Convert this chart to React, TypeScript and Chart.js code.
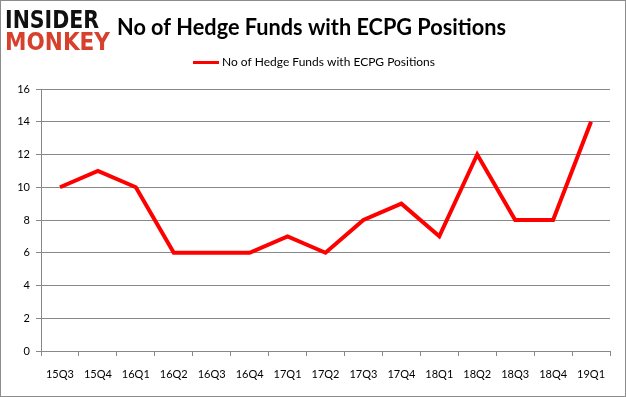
import React, { useEffect, useRef } from "react";
import { Chart, registerables } from "chart.js";

Chart.register(...registerables);

const categories = ["15Q3", "15Q4", "16Q1", "16Q2", "16Q3", "16Q4", "17Q1", "17Q2", "17Q3", "17Q4", "18Q1", "18Q2", "18Q3", "18Q4", "19Q1"];
const hedgeFunds = [10, 11, 10, 6, 6, 6, 7, 6, 8, 9, 7, 12, 8, 8, 14];
const seriesLabel = "No of Hedge Funds with ECPG Positions";
const titleText = "No of Hedge Funds with ECPG Positions";

const W = 626;
const H = 397;

function fitText(ctx: CanvasRenderingContext2D, text: string, x: number, y: number, w: number, h: number, font: string, color: string) {
  ctx.save();
  ctx.font = font;
  ctx.fillStyle = color;
  ctx.textBaseline = "alphabetic";
  const m = ctx.measureText(text);
  const tw = m.width;
  const th = m.actualBoundingBoxAscent;
  ctx.translate(x, y + h);
  ctx.scale(w / tw, h / th);
  ctx.fillText(text, 0, 0);
  ctx.restore();
}

const decorPlugin = {
  id: "decor",
  afterDraw(chart: any) {
    const ctx: CanvasRenderingContext2D = chart.ctx;
    ctx.save();
    // frame
    ctx.strokeStyle = "#8c8c8c";
    ctx.lineWidth = 1;
    ctx.strokeRect(0.5, 0.5, W - 1, H - 1);
    // logo
    fitText(ctx, "INSIDER", 5, 10, 94, 18, "900 30px 'DejaVu Sans'", "#111111");
    fitText(ctx, "MONKEY", 5, 32, 105, 18, "900 30px 'DejaVu Sans'", "#d6402c");
    // title
    ctx.font = "bold 22px Lato";
    const tw = ctx.measureText(titleText).width;
    ctx.fillStyle = "#000000";
    ctx.textBaseline = "alphabetic";
    ctx.save();
    ctx.translate(117, 35);
    ctx.scale(389 / tw, 1);
    ctx.fillText(titleText, 0, 0);
    ctx.restore();
    // legend
    ctx.strokeStyle = "#ff0000";
    ctx.lineWidth = 3;
    ctx.beginPath();
    ctx.moveTo(193, 62.5);
    ctx.lineTo(219, 62.5);
    ctx.stroke();
    ctx.font = "12px Lato";
    ctx.fillStyle = "#000000";
    ctx.textBaseline = "middle";
    const lw = ctx.measureText(seriesLabel).width;
    ctx.save();
    ctx.translate(222, 62);
    ctx.scale(213 / lw, 1);
    ctx.fillText(seriesLabel, 0, 0);
    ctx.restore();
    ctx.restore();
  },
};

export default function App() {
  const ref = useRef<HTMLCanvasElement | null>(null);
  useEffect(() => {
    document.body.style.margin = "0";
    const canvas = ref.current;
    if (!canvas) return;
    const chart = new Chart(canvas, {
      type: "line",
      data: {
        labels: categories,
        datasets: [
          {
            label: seriesLabel,
            data: hedgeFunds,
            borderColor: "#ff0000",
            backgroundColor: "#ff0000",
            borderWidth: 4,
            pointRadius: 0,
            tension: 0,
            fill: false,
          },
        ],
      },
      options: {
        animation: false,
        responsive: false,
        maintainAspectRatio: false,
        layout: { padding: { top: 89, right: 16, left: 0, bottom: 0 } },
        plugins: {
          legend: { display: false },
          tooltip: { enabled: false },
          title: { display: false },
        },
        scales: {
          x: {
            offset: true,
            grid: {
              offset: true,
              drawOnChartArea: false,
              drawTicks: true,
              tickLength: 5,
              color: "#888888",
            },
            border: { color: "#888888" },
            ticks: {
              color: "#000000",
              font: { family: "Lato", size: 11 },
              padding: 12,
              maxRotation: 0,
              autoSkip: false,
            },
            afterFit(scale: any) {
              scale.height = H - 351;
            },
          },
          y: {
            min: 0,
            max: 16,
            ticks: {
              stepSize: 2,
              color: "#000000",
              font: { family: "Lato", size: 11 },
              padding: 6,
            },
            grid: {
              color: "#888888",
              tickLength: 5,
            },
            border: { color: "#888888" },
            afterFit(scale: any) {
              scale.width = 41;
            },
          },
        },
      },
      plugins: [decorPlugin],
    });
    return () => chart.destroy();
  }, []);
  return (
    <div style={{ width: W, height: H, background: "#ffffff" }}>
      <canvas ref={ref} width={W} height={H} style={{ display: "block", width: W, height: H }} />
    </div>
  );
}
